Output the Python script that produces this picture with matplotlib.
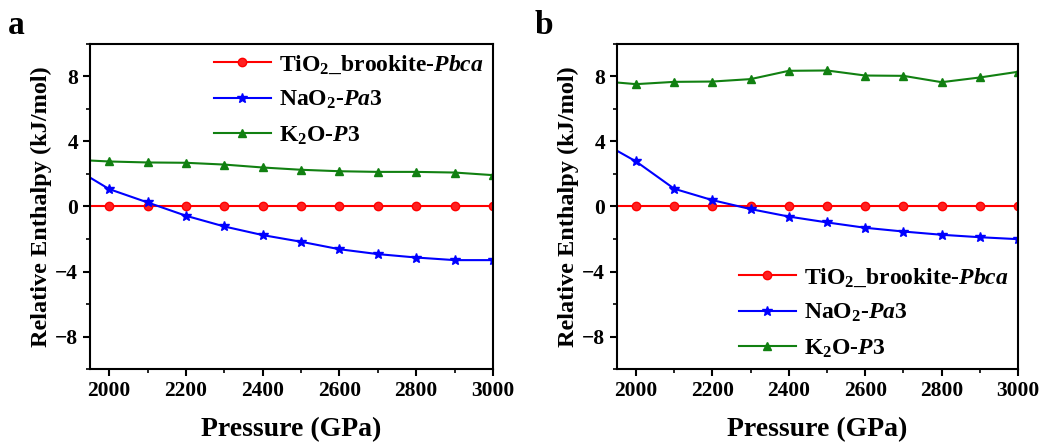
import matplotlib
matplotlib.use("Agg")
import matplotlib.pyplot as plt
from matplotlib.ticker import MultipleLocator, AutoMinorLocator

plt.rcParams['font.family'] = 'Liberation Serif'
plt.rcParams['font.weight'] = 'bold'
plt.rcParams['mathtext.fontset'] = 'custom'
plt.rcParams['mathtext.rm'] = 'Liberation Serif:bold'
plt.rcParams['mathtext.it'] = 'Liberation Serif:italic:bold'
plt.rcParams['mathtext.bf'] = 'Liberation Serif:bold'

# pressure points (first one sits on the left edge, no marker drawn)
pressure = [1950, 2000, 2100, 2200, 2300, 2400, 2500, 2600, 2700, 2800, 2900, 3000]

# panel a
tio2_a = [0, 0, 0, 0, 0, 0, 0, 0, 0, 0, 0, 0]
nao2_a = [1.78, 1.07, 0.25, -0.57, -1.23, -1.76, -2.17, -2.63, -2.93, -3.14, -3.30, -3.30]
k2o_a = [2.83, 2.77, 2.71, 2.69, 2.58, 2.40, 2.26, 2.17, 2.13, 2.13, 2.09, 1.93]

# panel b
tio2_b = [0, 0, 0, 0, 0, 0, 0, 0, 0, 0, 0, 0]
nao2_b = [3.43, 2.77, 1.09, 0.39, -0.16, -0.62, -0.98, -1.31, -1.54, -1.74, -1.89, -2.01]
k2o_b = [7.63, 7.53, 7.67, 7.69, 7.84, 8.35, 8.37, 8.06, 8.04, 7.65, 7.94, 8.29]

labels = ["TiO$_2$_brookite-$\\mathit{Pbca}$", "NaO$_2$-$\\mathit{Pa}$3", "K$_2$O-$\\mathit{P}$3"]

fig = plt.figure(figsize=(10.46, 4.46), dpi=100)
ax1 = fig.add_axes([90 / 1046, 1 - 369 / 446, 403 / 1046, 325 / 446])
ax2 = fig.add_axes([617 / 1046, 1 - 369 / 446, 401 / 1046, 325 / 446])


def draw(ax, tio2, nao2, k2o, loc, letter, lx):
    mk = range(1, len(pressure))
    ax.plot(pressure, tio2, color='#ff0000', marker='o', ms=6, lw=1.5, markevery=mk,
            mfc='#ff2020', mec='#ff0000', label=labels[0])
    ax.plot(pressure, nao2, color='#0000ff', marker='*', ms=7, lw=1.5, markevery=mk,
            label=labels[1])
    ax.plot(pressure, k2o, color='#118011', marker='^', ms=6, lw=1.5, markevery=mk,
            label=labels[2])
    ax.set_xlim(1950, 3000)
    ax.set_ylim(-10, 10)
    ax.xaxis.set_major_locator(MultipleLocator(200))
    ax.xaxis.set_minor_locator(AutoMinorLocator(2))
    ax.yaxis.set_major_locator(MultipleLocator(4))
    ax.yaxis.set_minor_locator(AutoMinorLocator(2))
    ax.tick_params(which='major', direction='out', length=5, width=1.5, labelsize=15.5,
                   top=False, right=False)
    ax.tick_params(which='minor', direction='out', length=3, width=1.2, top=False, right=False)
    for s in ax.spines.values():
        s.set_linewidth(1.5)
    ax.set_xlabel("Pressure (GPa)", fontsize=20, fontweight='bold', labelpad=12)
    ax.set_ylabel("Relative Enthalpy (kJ/mol)", fontsize=17.5, fontweight='bold', labelpad=2)
    ax.legend(loc=loc, frameon=False, fontsize=17, handlelength=2.4, handletextpad=0.35,
              labelspacing=0.55, borderaxespad=0.0)
    fig.text(lx, 1 - 25 / 446, letter, fontsize=24, fontweight='bold', va='center')


draw(ax1, tio2_a, nao2_a, k2o_a, 'upper right', 'a', 8 / 1046)
draw(ax2, tio2_b, nao2_b, k2o_b, 'lower right', 'b', 535 / 1046)

fig.savefig("out.png", dpi=100)
